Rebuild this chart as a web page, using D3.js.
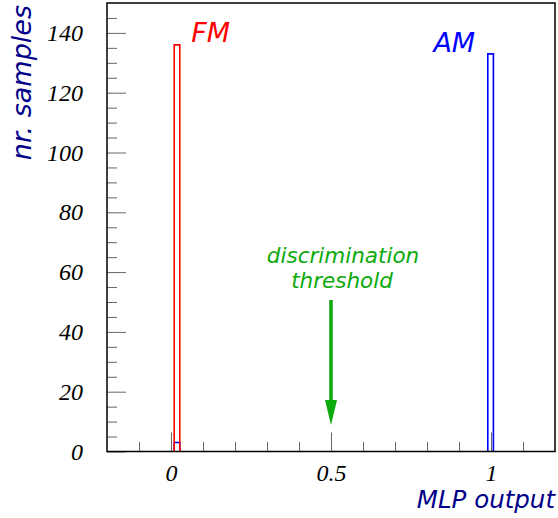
<!DOCTYPE html>
<html lang="en">
<head>
    <meta charset="UTF-8">
    <title>MLP output</title>
    <script src="https://d3js.org/d3.v7.min.js"></script>
    <style>
        body { margin: 0; padding: 0; background: #fff; }
        .tick-label { font-family: "Liberation Serif", serif; font-style: italic; font-size: 24px; fill: #000; }
        .title { font-family: "DejaVu Sans", sans-serif; font-style: oblique; }
    </style>
</head>
<body>
<svg id="chart" width="558" height="518"></svg>
<script>
    // histogram bins (left edge, right edge, count)
    const fmX0 = [0.0100];
    const fmX1 = [0.0275];
    const fmCounts = [136];
    const amX0 = [0.0100, 0.9900];
    const amX1 = [0.0275, 1.0075];
    const amCounts = [3, 133];

    // axis ticks
    const xMajor = [0, 0.5, 1];
    const xMajorLabels = ["0", "0.5", "1"];
    const xMinor = [-0.1, 0.1, 0.2, 0.3, 0.4, 0.6, 0.7, 0.8, 0.9, 1.1];
    const yMajor = [0, 20, 40, 60, 80, 100, 120, 140];
    const yMajorLabels = ["0", "20", "40", "60", "80", "100", "120", "140"];
    const yMinor = [5, 10, 15, 25, 30, 35, 45, 50, 55, 65, 70, 75, 85, 90, 95, 105, 110, 115, 125, 130, 135, 145];

    const threshold = 0.5;

    const frameL = 107, frameR = 555, frameT = 3, frameB = 451.5;
    const svg = d3.select("#chart");

    const x = d3.scaleLinear().domain([-0.2, 1.2]).range([frameL, frameR]);
    const y = d3.scaleLinear().domain([0, 150]).range([frameB, frameT]);

    // minor ticks
    svg.append("g")
        .attr("transform", `translate(${frameL},0)`)
        .call(d3.axisLeft(y).tickValues(yMinor).tickSize(-10).tickFormat(""))
        .call(g => g.select(".domain").remove())
        .selectAll("line").attr("stroke", "#666");
    svg.append("g")
        .attr("transform", `translate(0,${frameB})`)
        .call(d3.axisBottom(x).tickValues(xMinor).tickSize(-9.5).tickFormat(""))
        .call(g => g.select(".domain").remove())
        .selectAll("line").attr("stroke", "#666");

    // major ticks + labels
    const yAxis = svg.append("g")
        .attr("transform", `translate(${frameL},0)`)
        .call(d3.axisLeft(y).tickValues(yMajor).tickSize(-19).tickPadding(24)
            .tickFormat((d, i) => yMajorLabels[i]))
        .call(g => g.select(".domain").remove());
    yAxis.selectAll("line").attr("stroke", "#666");
    yAxis.attr("font-size", null).attr("font-family", null);
    yAxis.selectAll("text").attr("class", "tick-label");

    const xAxis = svg.append("g")
        .attr("transform", `translate(0,${frameB})`)
        .call(d3.axisBottom(x).tickValues(xMajor).tickSize(-19).tickPadding(12)
            .tickFormat((d, i) => xMajorLabels[i]))
        .call(g => g.select(".domain").remove());
    xAxis.selectAll("line").attr("stroke", "#666");
    xAxis.attr("font-size", null).attr("font-family", null);
    xAxis.selectAll("text").attr("class", "tick-label");

    // histogram outlines
    function stepPath(x0, x1, v) {
        return `M${x(x0)},${y(0)}V${y(v)}H${x(x1)}V${y(0)}`;
    }
    svg.selectAll(".am")
        .data(amCounts)
        .join("path")
        .attr("class", "am")
        .attr("d", (d, i) => stepPath(amX0[i], amX1[i], d))
        .attr("fill", "none")
        .attr("stroke", "#0000ff")
        .attr("stroke-width", 1.6);
    svg.selectAll(".fm")
        .data(fmCounts)
        .join("path")
        .attr("class", "fm")
        .attr("d", (d, i) => stepPath(fmX0[i], fmX1[i], d))
        .attr("fill", "none")
        .attr("stroke", "#ff0000")
        .attr("stroke-width", 1.6);

    // frame
    svg.append("rect")
        .attr("x", frameL).attr("y", frameT)
        .attr("width", frameR - frameL).attr("height", frameB - frameT)
        .attr("fill", "none").attr("stroke", "#000").attr("stroke-width", 1.5);

    // labels for the peaks
    svg.append("text").attr("class", "title")
        .attr("x", x(0.063)).attr("y", 42)
        .attr("font-size", 27).attr("fill", "#ff0000")
        .text("FM");
    svg.append("text").attr("class", "title")
        .attr("x", x(0.82)).attr("y", 52)
        .attr("font-size", 27).attr("fill", "#0000ff")
        .text("AM");

    // threshold annotation
    const green = "#0caa0c";
    svg.append("text").attr("class", "title")
        .attr("x", x(threshold) + 12).attr("y", 263)
        .attr("text-anchor", "middle").attr("font-size", 21.5).attr("fill", green)
        .text("discrimination");
    svg.append("text").attr("class", "title")
        .attr("x", x(threshold) + 11).attr("y", 288)
        .attr("text-anchor", "middle").attr("font-size", 21.5).attr("fill", green)
        .text("threshold");
    svg.append("line")
        .attr("x1", x(threshold)).attr("x2", x(threshold))
        .attr("y1", 300).attr("y2", 402)
        .attr("stroke", green).attr("stroke-width", 3.5);
    svg.append("path")
        .attr("d", `M${x(threshold) - 6},400L${x(threshold) + 6},400L${x(threshold)},425Z`)
        .attr("fill", green);

    // axis titles
    svg.append("text").attr("class", "title")
        .attr("x", frameR).attr("y", 508)
        .attr("text-anchor", "end").attr("font-size", 24.5).attr("fill", "#000088")
        .text("MLP output");
    svg.append("text").attr("class", "title")
        .attr("transform", `translate(31,${frameT + 2}) rotate(-90)`)
        .attr("text-anchor", "end").attr("font-size", 27).attr("fill", "#000088")
        .text("nr. samples");
</script>
</body>
</html>
